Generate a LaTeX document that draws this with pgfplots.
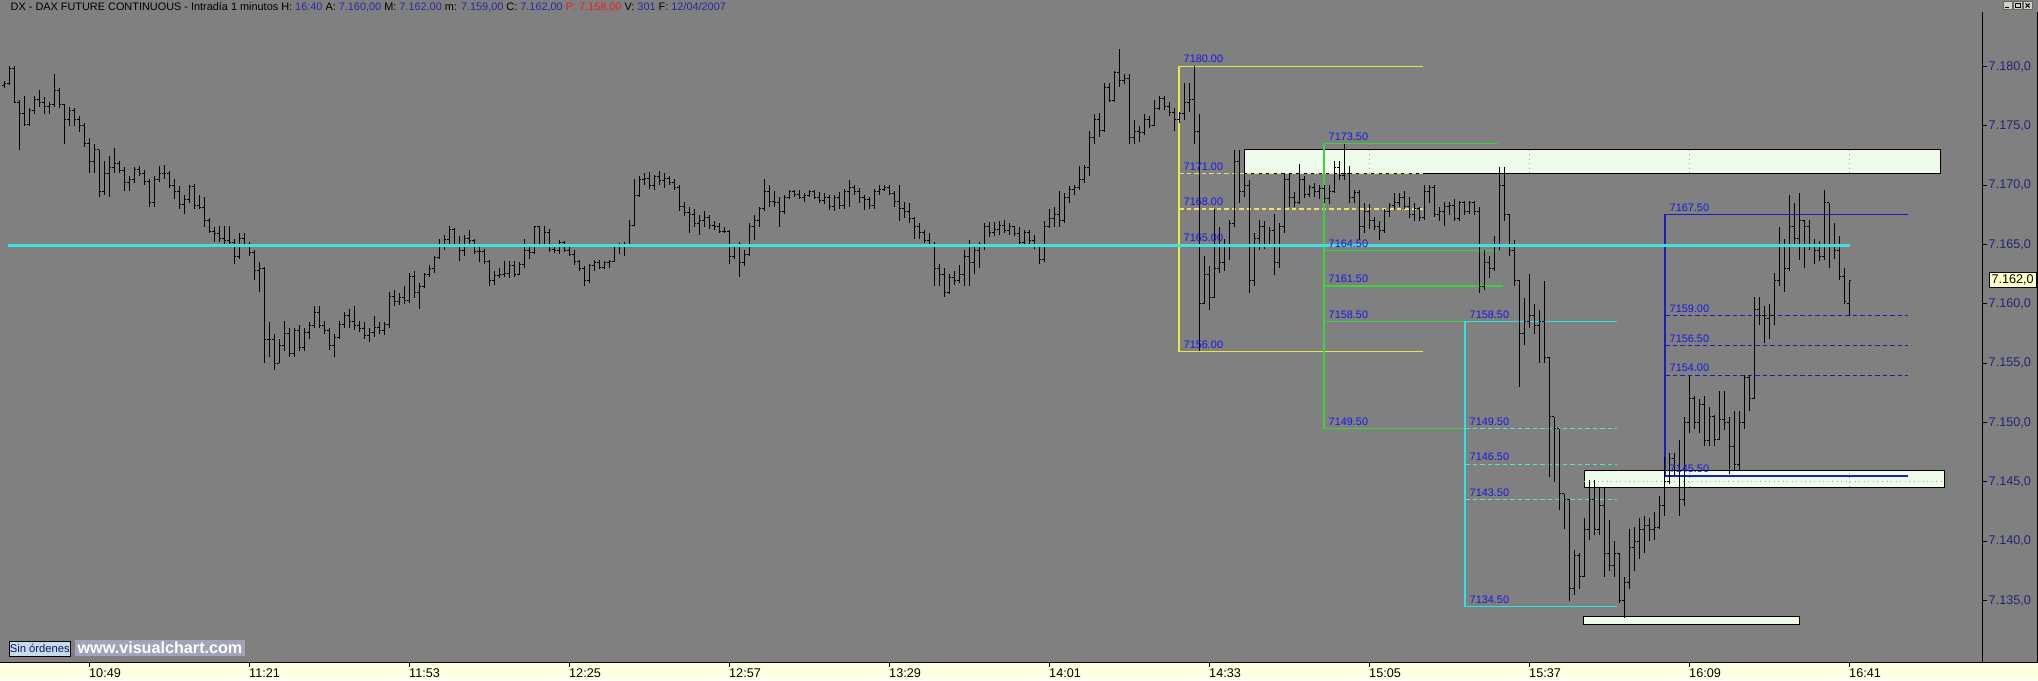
\documentclass[border=0pt]{standalone}
\usepackage{fontspec}
\setmainfont{Liberation Sans}
\usepackage{pgfplots}
\usepackage{pgfplotstable}
\pgfplotsset{compat=1.18}

\definecolor{bg}{RGB}{128,128,128}
\definecolor{strip}{RGB}{255,255,225}
\definecolor{cyanl}{RGB}{64,224,224}
\definecolor{yel}{RGB}{232,232,64}
\definecolor{yeld}{RGB}{236,224,110}
\definecolor{grn}{RGB}{60,212,60}
\definecolor{cyb}{RGB}{40,230,230}
\definecolor{cybd}{RGB}{90,225,190}
\definecolor{blu}{RGB}{30,30,190}
\definecolor{lbl}{RGB}{25,25,225}
\definecolor{axnavy}{RGB}{36,36,120}
\definecolor{zone}{RGB}{238,250,234}
\definecolor{tblue}{RGB}{40,40,170}
\definecolor{tred}{RGB}{230,30,30}
\definecolor{pricebox}{RGB}{255,255,200}
\definecolor{btn}{RGB}{212,208,200}
\definecolor{ordbox}{RGB}{196,220,240}
\definecolor{ordtxt}{RGB}{20,20,90}
\definecolor{wwwbg}{RGB}{162,162,184}

\newcommand\lblf{\fontsize{3.1}{3.6}\selectfont}
\newcommand\tickf{\fontsize{3.6}{4}\selectfont}
\newcommand\titf{\fontsize{3.1}{3.7}\selectfont}

% open / close ticks of the OHLC bars
\pgfdeclareplotmark{otick}{\pgfpathmoveto{\pgfpoint{-0.22mm}{0pt}}\pgfpathlineto{\pgfpointorigin}\pgfusepathqstroke}
\pgfdeclareplotmark{ctick}{\pgfpathmoveto{\pgfpointorigin}\pgfpathlineto{\pgfpoint{0.22mm}{0pt}}\pgfusepathqstroke}

\begin{document}

% t = minutes since midnight, 1-minute bars
\pgfplotstableread[row sep=\\]{
t o h l c\\
632 7178.4 7178.8 7178.2 7178.6\\ 633 7178.6 7180.0 7178.4 7179.8\\ 634 7179.8 7180.0 7176.9 7177.0\\
635 7177.0 7177.2 7173.0 7176.0\\ 636 7176.0 7177.5 7175.0 7175.1\\ 637 7175.1 7176.5 7175.0 7176.3\\
638 7176.3 7177.5 7176.0 7177.2\\ 639 7177.2 7178.0 7176.6 7177.0\\ 640 7177.0 7177.4 7176.0 7176.6\\
641 7176.6 7177.0 7176.0 7176.8\\ 642 7176.8 7179.4 7176.6 7178.0\\ 643 7178.0 7178.2 7176.5 7176.8\\
644 7176.8 7176.8 7173.5 7175.5\\ 645 7175.5 7176.6 7175.0 7176.3\\ 646 7176.3 7176.5 7175.0 7175.5\\
647 7175.5 7175.8 7174.5 7175.0\\ 648 7175.0 7175.2 7173.2 7173.5\\ 649 7173.5 7174.0 7171.0 7172.0\\
650 7172.0 7173.5 7171.0 7173.0\\ 651 7173.0 7173.0 7169.0 7169.5\\ 652 7169.5 7172.0 7169.2 7171.0\\
653 7171.0 7172.5 7169.0 7171.5\\ 654 7171.5 7173.1 7171.0 7171.8\\ 655 7171.8 7172.0 7171.0 7171.2\\
656 7171.2 7171.5 7169.5 7170.2\\ 657 7170.2 7170.8 7169.5 7170.5\\ 658 7170.5 7171.5 7170.2 7171.3\\
659 7171.3 7171.6 7170.8 7171.0\\ 660 7171.0 7171.3 7170.0 7170.3\\ 661 7170.3 7170.5 7168.2 7168.5\\
662 7168.5 7170.8 7168.2 7170.5\\ 663 7170.5 7171.6 7170.3 7171.0\\ 664 7171.0 7171.7 7170.5 7171.0\\
665 7171.0 7171.2 7169.8 7170.0\\ 666 7170.0 7170.5 7168.8 7169.5\\ 667 7169.5 7169.9 7168.0 7168.4\\
668 7168.4 7169.2 7167.6 7168.8\\ 669 7168.8 7170.0 7168.5 7169.9\\ 670 7169.9 7170.1 7168.0 7168.3\\
671 7168.3 7169.2 7168.0 7168.1\\ 672 7168.1 7169.0 7166.5 7167.0\\ 673 7167.0 7167.2 7166.0 7166.1\\
674 7166.1 7166.5 7165.2 7165.9\\ 675 7165.9 7166.6 7165.2 7165.5\\ 676 7165.5 7166.6 7164.8 7165.3\\
677 7165.3 7166.6 7164.9 7165.2\\ 678 7165.2 7165.5 7163.4 7164.0\\ 679 7164.0 7166.0 7163.8 7165.5\\
680 7165.5 7166.0 7164.8 7165.0\\ 681 7165.0 7165.2 7164.0 7164.3\\ 682 7164.3 7164.5 7162.0 7162.8\\
683 7162.8 7163.5 7161.0 7163.0\\ 684 7163.0 7163.1 7155.0 7157.0\\ 685 7157.0 7158.5 7155.5 7157.0\\
686 7157.0 7157.5 7154.4 7155.0\\ 687 7155.0 7157.0 7155.0 7156.5\\ 688 7156.5 7158.6 7156.0 7157.5\\
689 7157.5 7158.0 7155.5 7155.8\\ 690 7155.8 7158.0 7155.5 7157.8\\ 691 7157.8 7158.2 7156.0 7156.3\\
692 7156.3 7158.0 7156.0 7157.6\\ 693 7157.6 7158.5 7157.0 7158.2\\ 694 7158.2 7159.8 7158.0 7159.3\\
695 7159.3 7159.8 7158.0 7158.2\\ 696 7158.2 7158.6 7157.5 7157.8\\ 697 7157.8 7158.0 7156.1 7156.5\\
698 7156.5 7157.5 7155.5 7157.2\\ 699 7157.2 7158.6 7157.0 7158.3\\ 700 7158.3 7159.3 7158.0 7159.0\\
701 7159.0 7159.6 7158.0 7158.5\\ 702 7158.5 7159.8 7157.8 7158.2\\ 703 7158.2 7158.6 7157.6 7157.9\\
704 7157.9 7158.5 7157.0 7157.3\\ 705 7157.3 7158.0 7156.8 7157.6\\ 706 7157.6 7159.0 7157.2 7158.0\\
707 7158.0 7158.5 7157.5 7157.8\\ 708 7157.8 7158.5 7157.4 7158.3\\ 709 7158.3 7161.0 7158.0 7160.6\\
710 7160.6 7161.2 7159.8 7160.2\\ 711 7160.2 7160.9 7159.9 7160.5\\ 712 7160.5 7161.5 7160.0 7160.3\\
713 7160.3 7162.6 7160.1 7162.3\\ 714 7162.3 7162.8 7160.5 7161.0\\ 715 7161.0 7161.8 7159.6 7161.5\\
716 7161.5 7162.6 7161.3 7162.5\\ 717 7162.5 7163.3 7162.3 7163.0\\ 718 7163.0 7164.0 7162.6 7163.9\\
719 7163.9 7165.5 7163.8 7165.0\\ 720 7165.0 7165.8 7164.5 7165.4\\ 721 7165.4 7166.6 7165.0 7166.3\\
722 7166.3 7166.4 7164.8 7165.0\\ 723 7165.0 7165.7 7163.6 7164.5\\ 724 7164.5 7165.8 7164.0 7165.5\\
725 7165.5 7166.2 7165.0 7165.3\\ 726 7165.3 7165.5 7164.2 7164.4\\ 727 7164.4 7164.8 7163.5 7164.4\\
728 7164.4 7164.6 7163.4 7163.6\\ 729 7163.6 7163.7 7161.5 7162.0\\ 730 7162.0 7162.8 7161.6 7162.4\\
731 7162.4 7163.0 7162.2 7162.5\\ 732 7162.5 7163.6 7162.3 7162.6\\ 733 7162.6 7163.6 7162.2 7163.2\\
734 7163.2 7163.6 7162.3 7162.5\\ 735 7162.5 7163.5 7162.4 7163.3\\ 736 7163.3 7165.5 7163.0 7164.5\\
737 7164.5 7165.0 7163.8 7164.3\\ 738 7164.3 7166.6 7164.2 7166.5\\ 739 7166.5 7166.6 7164.8 7165.0\\
740 7165.0 7166.6 7164.8 7166.0\\ 741 7166.0 7166.3 7164.4 7164.6\\ 742 7164.6 7165.0 7164.3 7164.5\\
743 7164.5 7165.4 7164.2 7165.2\\ 744 7165.2 7165.3 7164.4 7164.5\\ 745 7164.5 7164.8 7164.0 7164.2\\
746 7164.2 7164.5 7163.3 7163.6\\ 747 7163.6 7163.7 7162.8 7163.0\\ 748 7163.0 7163.2 7161.5 7162.0\\
749 7162.0 7163.4 7161.8 7163.2\\ 750 7163.2 7163.7 7162.8 7163.5\\ 751 7163.5 7163.7 7162.9 7163.1\\
752 7163.1 7163.6 7162.9 7163.5\\ 753 7163.5 7163.7 7163.0 7163.6\\ 754 7163.6 7165.0 7163.5 7164.9\\
755 7164.9 7165.1 7164.2 7165.0\\ 756 7165.0 7165.2 7164.0 7164.9\\ 757 7164.9 7167.1 7164.8 7166.6\\
758 7166.6 7170.5 7166.6 7169.1\\ 759 7169.1 7170.8 7169.0 7170.5\\ 760 7170.5 7171.0 7170.0 7170.6\\
761 7170.6 7171.1 7169.7 7170.0\\ 762 7170.0 7170.9 7169.6 7170.7\\ 763 7170.7 7171.2 7170.0 7170.4\\
764 7170.4 7171.0 7169.8 7170.6\\ 765 7170.6 7170.8 7170.0 7170.2\\ 766 7170.2 7170.5 7169.6 7169.8\\
767 7169.8 7170.0 7167.8 7168.2\\ 768 7168.2 7168.6 7167.4 7167.7\\ 769 7167.7 7168.2 7166.0 7167.5\\
770 7167.5 7168.0 7166.5 7166.8\\ 771 7166.8 7167.5 7165.8 7167.0\\ 772 7167.0 7167.8 7166.5 7167.3\\
773 7167.3 7167.5 7166.3 7166.6\\ 774 7166.6 7167.0 7166.2 7166.5\\ 775 7166.5 7166.8 7166.0 7166.1\\
776 7166.1 7166.5 7166.0 7166.1\\ 777 7166.1 7166.2 7163.4 7164.0\\ 778 7164.0 7165.0 7163.8 7164.8\\
779 7164.8 7165.2 7162.3 7163.5\\ 780 7163.5 7164.5 7163.2 7164.2\\ 781 7164.2 7166.8 7164.0 7166.5\\
782 7166.5 7167.5 7165.4 7167.0\\ 783 7167.0 7168.2 7166.5 7168.0\\ 784 7168.0 7170.5 7167.8 7169.5\\
785 7169.5 7170.0 7168.2 7168.6\\ 786 7168.6 7169.5 7168.2 7168.5\\ 787 7168.5 7169.0 7166.5 7167.8\\
788 7167.8 7169.2 7167.6 7169.0\\ 789 7169.0 7169.6 7168.8 7169.5\\ 790 7169.5 7169.6 7169.0 7169.2\\
791 7169.2 7169.6 7168.8 7169.0\\ 792 7169.0 7169.3 7168.6 7169.1\\ 793 7169.1 7169.6 7169.0 7169.5\\
794 7169.5 7169.6 7168.8 7169.0\\ 795 7169.0 7169.4 7168.5 7168.7\\ 796 7168.7 7169.3 7168.4 7169.0\\
797 7169.0 7169.2 7167.9 7168.2\\ 798 7168.2 7169.2 7167.8 7169.0\\ 799 7169.0 7169.4 7168.0 7168.3\\
800 7168.3 7169.7 7168.0 7169.5\\ 801 7169.5 7170.4 7168.2 7169.8\\ 802 7169.8 7170.0 7169.2 7169.5\\
803 7169.5 7169.8 7168.5 7169.0\\ 804 7169.0 7169.2 7167.9 7168.8\\ 805 7168.8 7169.0 7168.0 7168.3\\
806 7168.3 7169.7 7168.0 7169.5\\ 807 7169.5 7170.0 7169.2 7169.6\\ 808 7169.6 7170.0 7169.5 7169.8\\
809 7169.8 7170.0 7169.2 7169.3\\ 810 7169.3 7169.5 7168.2 7168.6\\ 811 7168.6 7170.0 7167.0 7168.0\\
812 7168.0 7168.6 7167.2 7167.8\\ 813 7167.8 7168.5 7166.8 7167.2\\ 814 7167.2 7167.3 7165.5 7166.5\\
815 7166.5 7166.8 7165.5 7166.0\\ 816 7166.0 7166.2 7165.1 7165.3\\ 817 7165.3 7166.0 7164.8 7165.0\\
818 7165.0 7165.2 7161.5 7163.0\\ 819 7163.0 7163.4 7161.5 7162.5\\ 820 7162.5 7163.0 7160.6 7161.0\\
821 7161.0 7162.5 7160.8 7162.2\\ 822 7162.2 7162.8 7161.6 7162.0\\ 823 7162.0 7163.3 7161.8 7162.5\\
824 7162.5 7164.5 7161.5 7164.0\\ 825 7164.0 7165.4 7161.5 7163.5\\ 826 7163.5 7165.0 7162.5 7164.5\\
827 7164.5 7165.2 7163.0 7164.8\\ 828 7164.8 7166.8 7164.5 7166.5\\ 829 7166.5 7166.9 7165.6 7166.0\\
830 7166.0 7166.9 7165.7 7166.3\\ 831 7166.3 7167.0 7165.8 7166.6\\ 832 7166.6 7167.1 7166.0 7166.2\\
833 7166.2 7166.8 7165.8 7166.5\\ 834 7166.5 7166.6 7165.7 7165.9\\ 835 7165.9 7166.5 7164.9 7165.2\\
836 7165.2 7166.2 7164.8 7166.0\\ 837 7166.0 7166.2 7165.0 7165.3\\ 838 7165.3 7165.8 7164.6 7164.8\\
839 7164.8 7165.0 7163.4 7163.7\\ 840 7163.7 7167.0 7163.5 7166.5\\ 841 7166.5 7168.0 7166.4 7167.2\\
842 7167.2 7168.2 7166.5 7167.5\\ 843 7167.5 7169.5 7166.5 7167.0\\ 844 7167.0 7169.3 7166.8 7169.0\\
845 7169.0 7169.9 7168.5 7169.6\\ 846 7169.6 7170.0 7169.2 7169.8\\ 847 7169.8 7171.6 7169.6 7170.5\\
848 7170.5 7171.7 7170.2 7171.5\\ 849 7171.5 7174.6 7170.8 7174.0\\ 850 7174.0 7176.0 7173.5 7175.5\\
851 7175.5 7176.1 7174.1 7174.6\\ 852 7174.6 7178.6 7174.5 7178.2\\ 853 7178.2 7178.6 7177.0 7177.1\\
854 7177.1 7179.6 7177.0 7179.5\\ 855 7179.5 7181.5 7178.3 7178.8\\ 856 7178.8 7179.4 7178.5 7179.0\\
857 7179.0 7179.4 7173.5 7174.0\\ 858 7174.0 7175.5 7173.5 7174.5\\ 859 7174.5 7175.0 7173.6 7174.4\\
860 7174.4 7176.0 7174.2 7175.5\\ 861 7175.5 7175.8 7174.8 7175.0\\ 862 7175.0 7177.2 7175.0 7176.5\\
863 7176.5 7177.5 7176.3 7177.3\\ 864 7177.3 7177.5 7176.3 7176.6\\ 865 7176.6 7177.0 7175.8 7176.1\\
866 7176.1 7176.5 7174.6 7175.5\\ 867 7175.5 7176.2 7175.2 7176.0\\ 868 7176.0 7178.6 7175.5 7177.0\\
869 7177.0 7178.6 7176.2 7177.2\\ 870 7177.2 7180.0 7173.5 7174.5\\ 871 7174.5 7176.0 7156.0 7160.0\\
872 7160.0 7164.0 7160.0 7162.5\\ 873 7162.5 7163.2 7159.5 7160.5\\ 874 7160.5 7168.0 7160.5 7163.0\\
875 7163.0 7166.5 7162.6 7163.5\\ 876 7163.5 7165.5 7162.8 7165.0\\ 877 7165.0 7167.1 7163.7 7166.8\\
878 7166.8 7173.0 7166.5 7172.0\\ 879 7172.0 7173.0 7168.5 7169.5\\ 880 7169.5 7171.0 7169.0 7170.0\\
881 7170.0 7170.4 7160.9 7162.0\\ 882 7162.0 7166.0 7161.5 7165.5\\ 883 7165.5 7167.1 7164.5 7166.5\\
884 7166.5 7167.0 7164.6 7165.0\\ 885 7165.0 7166.5 7165.0 7166.2\\ 886 7166.2 7167.6 7162.4 7163.5\\
887 7163.5 7166.8 7163.0 7166.5\\ 888 7166.5 7171.0 7166.0 7170.5\\ 889 7170.5 7171.0 7168.2 7169.0\\
890 7169.0 7169.4 7168.2 7168.5\\ 891 7168.5 7171.8 7168.4 7170.5\\ 892 7170.5 7170.8 7168.9 7169.2\\
893 7169.2 7170.0 7169.0 7169.8\\ 894 7169.8 7170.2 7169.0 7169.5\\ 895 7169.5 7170.0 7168.8 7169.7\\
896 7169.7 7170.0 7168.5 7168.9\\ 897 7168.9 7170.0 7168.4 7169.5\\ 898 7169.5 7172.0 7169.3 7171.5\\
899 7171.5 7172.0 7170.4 7170.8\\ 900 7170.8 7173.5 7170.4 7171.0\\ 901 7171.0 7171.6 7168.5 7169.0\\
902 7169.0 7169.6 7168.5 7169.4\\ 903 7169.4 7169.6 7165.4 7166.5\\ 904 7166.5 7168.5 7166.0 7167.8\\
905 7167.8 7168.4 7166.3 7167.0\\ 906 7167.0 7167.3 7166.2 7166.5\\ 907 7166.5 7167.0 7165.4 7166.2\\
908 7166.2 7168.0 7166.0 7167.8\\ 909 7167.8 7168.5 7167.3 7168.3\\ 910 7168.3 7169.3 7167.9 7168.5\\
911 7168.5 7169.3 7168.2 7169.0\\ 912 7169.0 7169.5 7168.0 7168.2\\ 913 7168.2 7169.0 7167.2 7167.5\\
914 7167.5 7168.5 7167.0 7168.0\\ 915 7168.0 7168.2 7167.0 7167.3\\ 916 7167.3 7170.0 7167.1 7169.5\\
917 7169.5 7170.0 7168.5 7169.8\\ 918 7169.8 7170.0 7167.3 7167.5\\ 919 7167.5 7168.2 7167.0 7167.8\\
920 7167.8 7168.6 7166.6 7168.2\\ 921 7168.2 7168.6 7167.5 7168.3\\ 922 7168.3 7168.8 7167.0 7167.2\\
923 7167.2 7168.7 7167.0 7168.5\\ 924 7168.5 7168.7 7167.5 7167.8\\ 925 7167.8 7168.7 7167.6 7168.5\\
926 7168.5 7168.7 7167.5 7167.8\\ 927 7167.8 7168.2 7160.9 7161.5\\ 928 7161.5 7164.5 7161.2 7163.5\\
929 7163.5 7164.0 7162.2 7163.0\\ 930 7163.0 7165.7 7162.8 7165.0\\ 931 7165.0 7171.5 7164.5 7170.0\\
932 7170.0 7171.5 7167.0 7167.5\\ 933 7167.5 7167.6 7164.0 7164.5\\ 934 7164.5 7165.4 7161.5 7162.0\\
935 7162.0 7162.0 7153.0 7157.5\\ 936 7157.5 7160.5 7156.5 7158.5\\ 937 7158.5 7162.5 7158.0 7159.0\\
938 7159.0 7160.0 7157.5 7158.2\\ 939 7158.2 7159.5 7155.0 7158.5\\ 940 7158.5 7161.9 7155.0 7155.5\\
941 7155.5 7155.5 7145.4 7150.5\\ 942 7150.5 7150.5 7145.0 7149.5\\ 943 7149.5 7149.5 7142.6 7144.0\\
944 7144.0 7144.0 7141.0 7143.5\\ 945 7143.5 7143.6 7135.0 7136.0\\ 946 7136.0 7139.3 7135.5 7138.8\\
947 7138.8 7139.0 7136.0 7137.0\\ 948 7137.0 7142.0 7137.0 7141.0\\ 949 7141.0 7145.2 7140.1 7143.5\\
950 7143.5 7145.2 7140.5 7141.0\\ 951 7141.0 7144.5 7140.5 7143.0\\ 952 7143.0 7144.5 7137.0 7139.0\\
953 7139.0 7141.8 7137.5 7138.0\\ 954 7138.0 7140.0 7137.0 7139.0\\ 955 7139.0 7139.0 7134.8 7135.0\\
956 7135.0 7137.0 7133.5 7136.5\\ 957 7136.5 7141.0 7136.0 7139.5\\ 958 7139.5 7141.2 7137.5 7140.0\\
959 7140.0 7142.0 7138.5 7141.0\\ 960 7141.0 7142.1 7139.0 7141.3\\ 961 7141.3 7142.0 7140.0 7141.0\\
962 7141.0 7142.5 7140.1 7141.2\\ 963 7141.2 7143.8 7141.0 7143.0\\ 964 7143.0 7147.1 7142.1 7145.0\\
965 7145.0 7147.4 7144.8 7147.0\\ 966 7147.0 7147.4 7145.5 7146.0\\ 967 7146.0 7148.5 7142.1 7143.5\\
968 7143.5 7150.5 7143.0 7150.0\\ 969 7150.0 7153.9 7149.1 7152.0\\ 970 7152.0 7152.2 7149.5 7150.0\\
971 7150.0 7152.0 7149.1 7151.5\\ 972 7151.5 7152.2 7148.0 7148.5\\ 973 7148.5 7151.3 7148.0 7150.5\\
974 7150.5 7150.6 7148.0 7148.6\\ 975 7148.6 7152.7 7148.5 7150.3\\ 976 7150.3 7152.7 7149.4 7150.0\\
977 7150.0 7150.5 7145.7 7148.0\\ 978 7148.0 7151.0 7146.0 7146.5\\ 979 7146.5 7151.0 7146.0 7150.0\\
980 7150.0 7154.0 7149.5 7153.8\\ 981 7153.8 7154.0 7151.0 7152.0\\ 982 7152.0 7160.6 7152.0 7159.5\\
983 7159.5 7160.6 7158.2 7159.0\\ 984 7159.0 7159.8 7156.7 7158.8\\ 985 7158.8 7160.0 7157.0 7159.0\\
986 7159.0 7162.6 7158.2 7162.0\\ 987 7162.0 7166.5 7161.5 7165.0\\ 988 7165.0 7165.5 7161.0 7163.0\\
989 7163.0 7169.2 7162.8 7166.5\\ 990 7166.5 7168.5 7164.8 7165.5\\ 991 7165.5 7169.3 7163.7 7167.0\\
992 7167.0 7167.1 7163.0 7166.5\\ 993 7166.5 7167.1 7164.5 7165.0\\ 994 7165.0 7165.5 7163.4 7164.5\\
995 7164.5 7165.3 7163.6 7164.0\\ 996 7164.0 7169.6 7163.7 7168.5\\ 997 7168.5 7168.5 7163.0 7165.0\\
998 7165.0 7166.8 7163.8 7164.5\\ 999 7164.5 7165.7 7162.0 7162.3\\ 1000 7162.3 7163.0 7160.0 7160.2\\
1001 7160.0 7162.0 7159.0 7162.0\\
}\ohlc

\begin{tikzpicture}
% background of the whole window
\fill[bg] (0,0) rectangle (203.8mm,68mm);
\fill[strip] (0,0) rectangle (203.8mm,1.8mm);

\begin{axis}[
    at={(0,1.8mm)}, anchor=south west,
    width=198.2mm, height=65mm, scale only axis,
    xmin=631.2, xmax=1027.6,
    ymin=7129.83, ymax=7184.59,
    axis line style={draw=none},
    clip mode=individual,
    xtick={649,681,713,745,777,809,841,873,905,937,969,1001},
    xticklabels={10:49,11:21,11:53,12:25,12:57,13:29,14:01,14:33,15:05,15:37,16:09,16:41},
    ytick={7135,7140,7145,7150,7155,7160,7165,7170,7175,7180},
    yticklabels={{7.135,0},{7.140,0},{7.145,0},{7.150,0},{7.155,0},{7.160,0},{7.165,0},{7.170,0},{7.175,0},{7.180,0}},
    xtick pos=left, ytick pos=right, yticklabel pos=right,
    tick align=outside, major tick length=0.5mm,
    tick style={black, line width=0.1mm},
    xticklabel style={font=\tickf, anchor=north west, inner sep=0pt, xshift=-0.05mm, yshift=-0.1mm},
    yticklabel style={font=\tickf, text=axnavy, anchor=west, inner sep=0pt, xshift=0.1mm},
]

% support / resistance zones
\addplot[forget plot, fill=zone, draw=black, line width=0.1mm] coordinates {(880,7171) (1019.2,7171) (1019.2,7173) (880,7173)} -- cycle;
\addplot[forget plot, fill=zone, draw=black, line width=0.1mm] coordinates {(948,7144.55) (1020,7144.55) (1020,7145.95) (948,7145.95)} -- cycle;
\addplot[forget plot, fill=zone, draw=black, line width=0.1mm] coordinates {(947.8,7133.0) (991,7133.0) (991,7133.7) (947.8,7133.7)} -- cycle;
% grid dots visible inside the zones
\addplot[forget plot, gray!70, densely dotted, line width=0.1mm] coordinates {(905,7171) (905,7173)};
\addplot[forget plot, gray!70, densely dotted, line width=0.1mm] coordinates {(937,7171) (937,7173)};
\addplot[forget plot, gray!70, densely dotted, line width=0.1mm] coordinates {(969,7171) (969,7173)};
\addplot[forget plot, gray!70, densely dotted, line width=0.1mm] coordinates {(1001,7171) (1001,7173)};
\addplot[forget plot, gray!70, densely dotted, line width=0.1mm] coordinates {(969,7144.55) (969,7145.95)};
\addplot[forget plot, gray!70, densely dotted, line width=0.1mm] coordinates {(1001,7144.55) (1001,7145.95)};
\addplot[forget plot, gray!70, densely dotted, line width=0.1mm] coordinates {(948,7145) (1020,7145)};

% yellow retracement box
\addplot[forget plot, yel, line width=0.12mm] coordinates {(915.8,7180) (867,7180) (867,7156) (915.8,7156)};
\addplot[forget plot, yeld, line width=0.12mm, dash pattern=on 0.45mm off 0.3mm] coordinates {(867,7171) (915.8,7171)};
\addplot[forget plot, yeld, line width=0.12mm, dash pattern=on 0.45mm off 0.3mm] coordinates {(867,7168) (915.8,7168)};
\addplot[forget plot, yeld, line width=0.12mm, dash pattern=on 0.45mm off 0.3mm] coordinates {(867,7165) (915.8,7165)};
% green box
\addplot[forget plot, grn, line width=0.12mm] coordinates {(930.8,7173.5) (896,7173.5) (896,7149.5) (924.2,7149.5)};
\addplot[forget plot, grn, line width=0.12mm] coordinates {(896,7164.5) (930.8,7164.5)};
\addplot[forget plot, grn, line width=0.12mm] coordinates {(896,7161.5) (931.8,7161.5)};
\addplot[forget plot, grn, line width=0.12mm] coordinates {(896,7158.5) (924.2,7158.5)};
% cyan box
\addplot[forget plot, cyb, line width=0.13mm] coordinates {(954.6,7158.5) (924.2,7158.5) (924.2,7134.5) (954.6,7134.5)};
\addplot[forget plot, cybd, line width=0.12mm, dash pattern=on 0.45mm off 0.3mm] coordinates {(924.2,7149.5) (954.6,7149.5)};
\addplot[forget plot, cybd, line width=0.12mm, dash pattern=on 0.45mm off 0.3mm] coordinates {(924.2,7146.5) (954.6,7146.5)};
\addplot[forget plot, cybd, line width=0.12mm, dash pattern=on 0.45mm off 0.3mm] coordinates {(924.2,7143.5) (954.6,7143.5)};
% blue box
\addplot[forget plot, blu, line width=0.12mm] coordinates {(1012.8,7167.5) (964.2,7167.5) (964.2,7145.5) (1012.8,7145.5)};
\addplot[forget plot, blu, line width=0.12mm, dash pattern=on 0.45mm off 0.3mm] coordinates {(964.2,7159) (1012.8,7159)};
\addplot[forget plot, blu, line width=0.12mm, dash pattern=on 0.45mm off 0.3mm] coordinates {(964.2,7156.5) (1012.8,7156.5)};
\addplot[forget plot, blu, line width=0.12mm, dash pattern=on 0.45mm off 0.3mm] coordinates {(964.2,7154) (1012.8,7154)};

% OHLC bars
\addplot[forget plot, draw=none, mark=none,
    error bars/.cd, y dir=plus, y explicit, error mark=none,
    error bar style={draw=black, solid, line width=0.1mm}]
    table[x=t, y=l, y error expr=\thisrow{h}-\thisrow{l}] {\ohlc};
\addplot[forget plot, only marks, mark=otick, mark options={draw=black, solid, line width=0.1mm}]
    table[x=t, y=o] {\ohlc};
\addplot[forget plot, only marks, mark=ctick, mark options={draw=black, solid, line width=0.1mm}]
    table[x=t, y=c] {\ohlc};

% horizontal level line
\addplot[forget plot, cyanl, line width=0.3mm] coordinates {(632.8,7164.9) (1001.2,7164.9)};

% level labels
\begin{scope}[every node/.style={anchor=south west, inner sep=0pt, font=\lblf, text=lbl}]
\node at (axis cs:867.8,7180.25) {7180.00};
\node at (axis cs:867.8,7171.2) {7171.00};
\node at (axis cs:867.8,7168.2) {7168.00};
\node at (axis cs:867.8,7165.2) {7165.00};
\node at (axis cs:867.8,7156.2) {7156.00};
\node at (axis cs:896.8,7173.7) {7173.50};
\node at (axis cs:896.8,7164.7) {7164.50};
\node at (axis cs:896.8,7161.7) {7161.50};
\node at (axis cs:896.8,7158.7) {7158.50};
\node at (axis cs:896.8,7149.7) {7149.50};
\node at (axis cs:925,7158.7) {7158.50};
\node at (axis cs:925,7149.7) {7149.50};
\node at (axis cs:925,7146.7) {7146.50};
\node at (axis cs:925,7143.7) {7143.50};
\node at (axis cs:925,7134.7) {7134.50};
\node at (axis cs:965,7167.7) {7167.50};
\node at (axis cs:965,7159.2) {7159.00};
\node at (axis cs:965,7156.7) {7156.50};
\node at (axis cs:965,7154.2) {7154.00};
\node at (axis cs:965,7145.7) {7145.50};
\end{scope}

% last price marker on the price scale
\node[anchor=west, fill=pricebox, draw=black, line width=0.1mm,
      inner sep=0.25mm, font=\tickf, text=black] at (axis cs:1028.9,7162) {7.162,0};
\end{axis}

% window chrome, in image pixel units
\begin{scope}[yshift=68mm, x=0.1mm, y=-0.1mm]
\draw[black, line width=0.1mm] (0,662) -- (2038,662);
\draw[black, line width=0.1mm] (1982,12) -- (1982,662);
\draw[black, line width=0.1mm] (2037,12) -- (2037,662);
\node[anchor=west, inner sep=0pt, font=\titf] at (10,7.5)
  {DX - DAX FUTURE CONTINUOUS - Intradía 1 minutos H: \textcolor{tblue}{16:40} A: \textcolor{tblue}{7.160,00} M: \textcolor{tblue}{7.162,00} m: \textcolor{tblue}{7.159,00} C: \textcolor{tblue}{7.162,00} \textcolor{tred}{P: 7.158,00} V: \textcolor{tblue}{301} F: \textcolor{tblue}{12/04/2007}};
% window buttons
\foreach \bx in {2003,2013,2023} {
  \filldraw[fill=btn, draw=black!60, line width=0.05mm] (\bx,1.5) rectangle (\bx+9,9);
}
\draw[black, line width=0.1mm] (2005,7.5) -- (2009,7.5);
\draw[black, line width=0.08mm] (2015,3.5) rectangle (2020,7.5);
\draw[black, line width=0.1mm] (2025.5,3.5) -- (2029.5,7.5) (2025.5,7.5) -- (2029.5,3.5);
% footer tags
\filldraw[fill=ordbox, draw=black, line width=0.1mm] (9.6,641) rectangle (70,656);
\node[inner sep=0pt, font=\fontsize{3.2}{3.6}\selectfont, text=ordtxt] at (39.8,648.5) {Sin órdenes};
\fill[wwwbg] (75,640) rectangle (245,656);
\node[inner sep=0pt, font=\fontsize{4.6}{5}\selectfont\bfseries, text=white] at (160,648) {www.visualchart.com};
\end{scope}

\pgfresetboundingbox
\path[use as bounding box] (0,0) rectangle (203.8mm,68mm);
\end{tikzpicture}
\end{document}
